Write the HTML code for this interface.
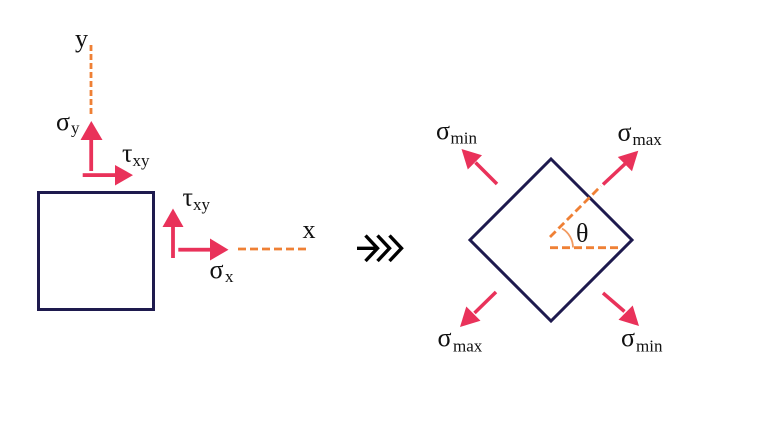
<!DOCTYPE html>
<html><head><meta charset="utf-8"><style>
html,body{margin:0;padding:0;background:#fff;}
svg{display:block;}
text{font-family:"Liberation Serif","DejaVu Serif",serif;fill:#111;}
.m{font-size:26px;}
.s{font-size:17px;}
</style></head><body>
<svg width="768" height="423" viewBox="0 0 768 423" xmlns="http://www.w3.org/2000/svg">
<rect width="768" height="423" fill="#fff"/>
<!-- left square -->
<rect x="38.5" y="192.5" width="115" height="117" fill="none" stroke="#1e1a4e" stroke-width="3"/>
<!-- dashed axes -->
<line x1="91" y1="45" x2="91" y2="114" stroke="#ef8035" stroke-width="2.8" stroke-dasharray="6 3"/>
<line x1="238" y1="249" x2="309" y2="249" stroke="#ef8035" stroke-width="2.8" stroke-dasharray="8 4"/>
<!-- left arrows -->
<g fill="#e9325a" stroke="none">
<rect x="89.3" y="139" width="3.8" height="32"/>
<polygon points="80.5,140 102.5,140 91.3,121"/>
<rect x="82.7" y="173.2" width="33" height="3.8"/>
<polygon points="115,165 115,185.5 133,175.1"/>
<rect x="171.1" y="226" width="3.8" height="32"/>
<polygon points="162.5,227 183.5,227 173,208.5"/>
<rect x="178.3" y="247.8" width="32.5" height="3.8"/>
<polygon points="210,238.5 210,260.5 228.5,249.7"/>
</g>
<!-- labels left -->
<text class="m" x="75" y="47">y</text>
<text class="m" x="56" y="130">σ</text><text class="s" x="71" y="133.5">y</text>
<text class="m" x="122" y="161.5">τ</text><text class="s" x="132.5" y="166">xy</text>
<text class="m" x="182.5" y="205.5">τ</text><text class="s" x="193" y="210">xy</text>
<text class="m" x="209.5" y="278">σ</text><text class="s" x="225" y="282">x</text>
<text class="m" x="302.5" y="238">x</text>
<!-- chevrons -->
<g stroke="#000" stroke-width="3.4" fill="none" stroke-linejoin="miter">
<line x1="357" y1="248.3" x2="375" y2="248.3"/>
<polyline points="365.5,235.5 377.5,248.3 365.5,261"/>
<polyline points="377.5,235.5 389.5,248.3 377.5,261"/>
<polyline points="389.5,235.5 401.5,248.3 389.5,261"/>
</g>
<!-- diamond -->
<polygon points="551,159 632,240 551,321 470,240" fill="none" stroke="#1e1a4e" stroke-width="3"/>
<!-- dashed in diamond -->
<line x1="550" y1="247.7" x2="622" y2="247.7" stroke="#ef8035" stroke-width="2.8" stroke-dasharray="8 4"/>
<line x1="550" y1="237" x2="601" y2="186" stroke="#ef8035" stroke-width="2.8" stroke-dasharray="8 4"/>
<path d="M573,247.5 A22,22 0 0 0 562,228.5" fill="none" stroke="#f29a60" stroke-width="1.8"/>
<!-- diagonal arrows -->
<g stroke="#e9325a" stroke-width="3.5">
<line x1="603" y1="184.5" x2="626" y2="163"/>
<line x1="497" y1="184" x2="475.5" y2="162.5"/>
<line x1="496" y1="292" x2="474.5" y2="313"/>
<line x1="603" y1="293" x2="624.5" y2="311.5"/>
</g>
<g fill="#e9325a">
<polygon points="638.3,150.7 632,171.2 617.8,157"/>
<polygon points="461.5,149 482,155.3 467.8,169.5"/>
<polygon points="460,327 480.5,320.7 466.3,306.5"/>
<polygon points="639,326 618.5,319.7 632.7,305.5"/>
</g>
<!-- labels right -->
<text class="m" x="576" y="241.5">θ</text>
<text class="m" x="436" y="139">σ</text><text class="s" x="450.5" y="143.5">min</text>
<text class="m" x="617.5" y="140.7">σ</text><text class="s" x="632.5" y="145">max</text>
<text class="m" x="437.5" y="346">σ</text><text class="s" x="453" y="351.5">max</text>
<text class="m" x="621" y="346">σ</text><text class="s" x="636" y="351.5">min</text>
</svg>
</body></html>
